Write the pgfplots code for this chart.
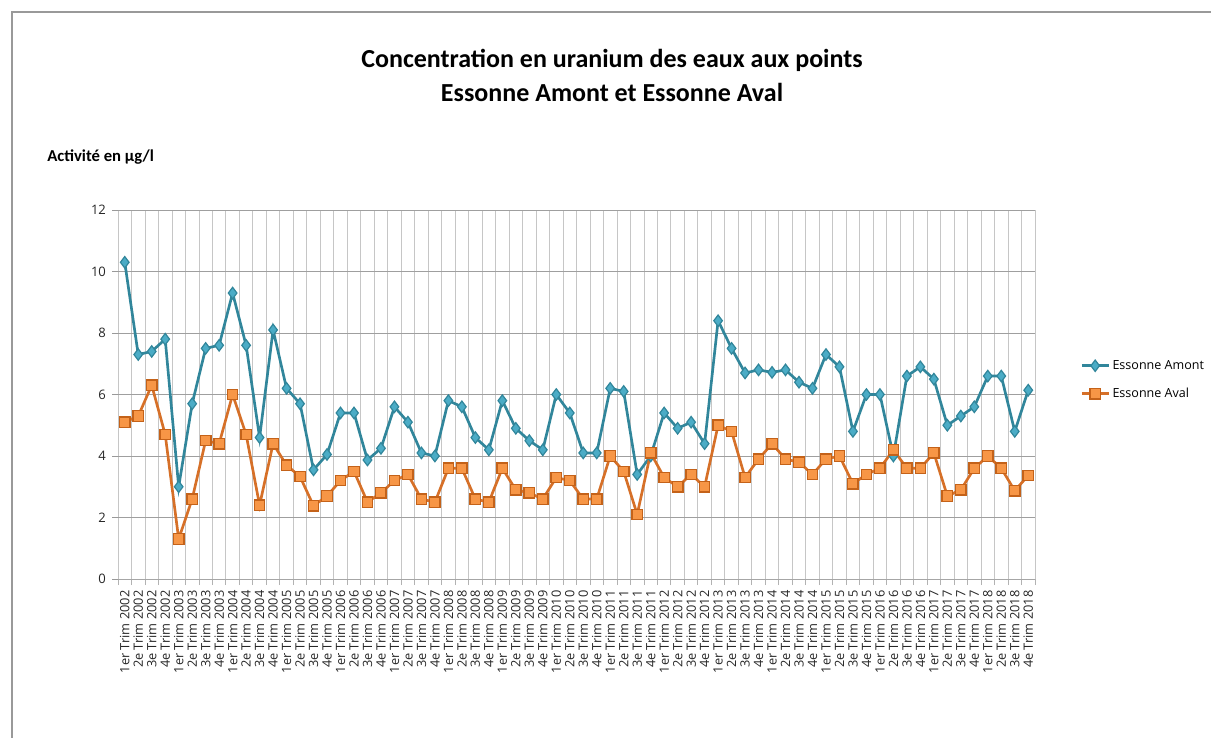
\documentclass[border=0pt]{standalone}
\usepackage{pgfplots}
\pgfplotsset{compat=1.18}
\usepackage{pgfplotstable}
\usepackage{fontspec}
\setmainfont{Carlito}
\newfontfamily\tickfont{Open Sans}
\definecolor{amontline}{RGB}{49,134,155}
\definecolor{amontfill}{RGB}{75,172,198}
\definecolor{avalline}{RGB}{214,112,40}
\definecolor{avalfill}{RGB}{247,150,70}
\definecolor{avaledge}{RGB}{196,98,25}
\pgfplotstableread{
x amont aval
0 10.3 5.1
1 7.3 5.3
2 7.4 6.3
3 7.8 4.7
4 3.0 1.3
5 5.7 2.6
6 7.5 4.5
7 7.6 4.4
8 9.3 6.0
9 7.6 4.7
10 4.6 2.4
11 8.1 4.4
12 6.2 3.7
13 5.7 3.33
14 3.55 2.38
15 4.05 2.7
16 5.4 3.2
17 5.4 3.5
18 3.87 2.5
19 4.25 2.8
20 5.6 3.2
21 5.1 3.4
22 4.1 2.6
23 4.0 2.5
24 5.8 3.6
25 5.6 3.6
26 4.6 2.6
27 4.2 2.5
28 5.8 3.6
29 4.9 2.9
30 4.5 2.8
31 4.2 2.6
32 6.0 3.3
33 5.4 3.2
34 4.1 2.6
35 4.1 2.6
36 6.2 4.0
37 6.1 3.5
38 3.4 2.1
39 4.0 4.1
40 5.4 3.3
41 4.9 3.0
42 5.1 3.4
43 4.4 3.0
44 8.4 5.0
45 7.5 4.8
46 6.7 3.3
47 6.8 3.9
48 6.72 4.4
49 6.8 3.9
50 6.4 3.8
51 6.2 3.4
52 7.3 3.9
53 6.9 4.0
54 4.8 3.1
55 6.0 3.4
56 6.0 3.6
57 4.0 4.2
58 6.6 3.6
59 6.9 3.6
60 6.5 4.1
61 5.0 2.7
62 5.3 2.9
63 5.6 3.6
64 6.6 4.0
65 6.6 3.6
66 4.8 2.87
67 6.14 3.37
}\datatable
\begin{document}
\begin{tikzpicture}
\useasboundingbox (0,0) rectangle (908.25pt,-553.5pt);
\draw[gray!80, line width=0.8pt] (9pt,-560pt) -- (9pt,-9pt) -- (920pt,-9pt);
\node[font=\fontsize{19.5}{23}\selectfont\bfseries] at (459pt,-45pt) {Concentration en uranium des eaux aux points};
\node[font=\fontsize{19.5}{23}\selectfont\bfseries] at (459pt,-69pt) {Essonne Amont et Essonne Aval};
\node[font=\fontsize{12.5}{14}\selectfont\bfseries, anchor=west, inner sep=0pt] at (35.25pt,-117.75pt) {Activité en µg/l};
\begin{axis}[
  at={(88.5pt,-434.25pt)}, anchor=south west,
  scale only axis, width=687.75pt, height=276.75pt,
  xmin=-0.5, xmax=67.5, ymin=0, ymax=12,
  ytick={0,2,...,12},
  xtick={0,...,67},
  minor xtick={-0.5,0.5,...,67.5},
  /pgf/number format/assume math mode=true,
  xticklabels={1er Trim 2002,2e Trim 2002,3e Trim 2002,4e Trim 2002,
1er Trim 2003,2e Trim 2003,3e Trim 2003,4e Trim 2003,
1er Trim 2004,2e Trim 2004,3e Trim 2004,4e Trim 2004,
1er Trim 2005,2e Trim 2005,3e Trim 2005,4e Trim 2005,
1er Trim 2006,2e Trim 2006,3e Trim 2006,4e Trim 2006,
1er Trim 2007,2e Trim 2007,3e Trim 2007,4e Trim 2007,
1er Trim 2008,2e Trim 2008,3e Trim 2008,4e Trim 2008,
1er Trim 2009,2e Trim 2009,3e Trim 2009,4e Trim 2009,
1er Trim 2010,2e Trim 2010,3e Trim 2010,4e Trim 2010,
1er Trim 2011,2e Trim 2011,3e Trim 2011,4e Trim 2011,
1er Trim 2012,2e Trim 2012,3e Trim 2012,4e Trim 2012,
1er Trim 2013,2e Trim 2013,3e Trim 2013,4e Trim 2013,
1er Trim 2014,2e Trim 2014,3e Trim 2014,4e Trim 2014,
1er Trim 2015,2e Trim 2015,3e Trim 2015,4e Trim 2015,
1er Trim 2016,2e Trim 2016,3e Trim 2016,4e Trim 2016,
1er Trim 2017,2e Trim 2017,3e Trim 2017,4e Trim 2017,
1er Trim 2018,2e Trim 2018,3e Trim 2018,4e Trim 2018},
  x tick label style={rotate=90, anchor=east, font=\tickfont\fontsize{9.6}{11}\selectfont, color=black!85, inner sep=1pt},
  y tick label style={font=\tickfont\fontsize{9.8}{11}\selectfont, color=black!85},
  major x tick style={draw=none},
  xticklabel shift=3pt,
  minor x tick style={draw=gray!60, line width=0.6pt},
  minor tick length=4.5pt,
  major tick length=4.5pt,
  y tick style={draw=gray!80, line width=0.6pt},
  tick align=outside,
  xtick pos=bottom, ytick pos=left,
  ymajorgrids, minor x grid style={gray!45, line width=0.6pt},
  xminorgrids,
  major grid style={gray!75, line width=0.6pt},
  axis line style={draw=none},
  axis x line*=bottom,
  x axis line style={draw=gray!70, line width=0.6pt},
  yticklabel style={xshift=-1pt},
  clip=false,
  legend style={at={(1.045,0.608)}, anchor=north west, draw=none, fill=none,
    font=\tickfont\fontsize{9.4}{11}\selectfont, row sep=8.5pt,
    legend cell align=left},
  legend image code/.code={\draw[mark repeat=2,mark phase=2] plot coordinates {(0pt,0pt)(10pt,0pt)(20pt,0pt)};},
]
\addplot[amontline, line width=2pt, mark=diamond*, mark size=4.3pt,
  mark options={fill=amontfill, draw=amontline, line width=0.9pt}]
  table[x=x, y=amont] {\datatable};
\addlegendentry{Essonne Amont}
\addplot[avalline, line width=2pt, mark=square*, mark size=3.9pt,
  mark options={fill=avalfill, draw=avaledge, line width=1pt}]
  table[x=x, y=aval] {\datatable};
\addlegendentry{Essonne Aval}
\end{axis}
\end{tikzpicture}
\end{document}
